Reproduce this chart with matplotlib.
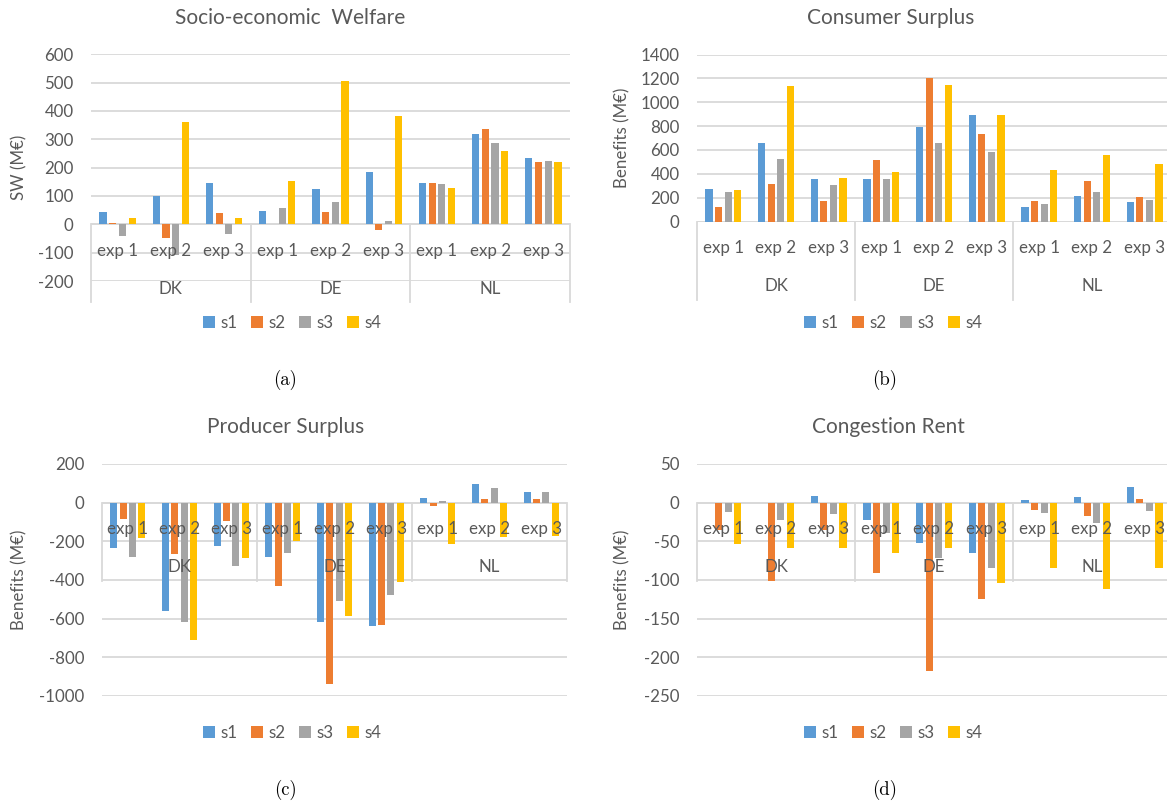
import matplotlib
matplotlib.use("Agg")
import matplotlib.pyplot as plt
from matplotlib.patches import Patch
import numpy as np

plt.rcParams['font.family'] = ['Lato', 'DejaVu Sans']

countries = ["DK", "DE", "NL"]
experiments = ["exp 1", "exp 2", "exp 3"]
series = ["s1", "s2", "s3", "s4"]
colors = ["#5B9BD5", "#ED7D31", "#A5A5A5", "#FFC000"]

# Socio-economic welfare (M€)
sw_s1 = [45, 101, 146, 48, 124, 186, 146, 318, 234]
sw_s2 = [6, -48, 39, 0, 44, -20, 146, 335, 220]
sw_s3 = [-40, -108, -35, 56, 80, 13, 142, 287, 225]
sw_s4 = [21, 362, 21, 154, 505, 381, 127, 260, 220]

# Consumer surplus (M€)
cs_s1 = [272, 661, 356, 356, 790, 896, 123, 217, 163]
cs_s2 = [123, 316, 168, 515, 1202, 737, 168, 343, 206]
cs_s3 = [249, 527, 305, 359, 661, 580, 148, 248, 183]
cs_s4 = [260, 1137, 367, 417, 1148, 896, 429, 554, 481]

# Producer surplus (M€)
ps_s1 = [-236, -560, -222, -283, -619, -638, 22, 95, 55]
ps_s2 = [-86, -267, -93, -431, -938, -633, -16, 17, 17]
ps_s3 = [-283, -619, -326, -262, -509, -478, 10, 76, 55]
ps_s4 = [-184, -710, -288, -198, -586, -412, -216, -179, -171]

# Congestion rent (M€)
cr_s1 = [0, 0, 8, -23, -52, -65, 3, 7, 20]
cr_s2 = [-35, -101, -35, -91, -218, -124, -9, -17, 5]
cr_s3 = [-12, -22, -15, -39, -72, -84, -13, -26, -11]
cr_s4 = [-54, -59, -59, -65, -59, -104, -85, -111, -84]

W, H = 1167, 807
DPI = 100
fig = plt.figure(figsize=(W / DPI, H / DPI), dpi=DPI)

TXT = "#595959"
GRID = "#D9D9D9"
FS = 12.2

panels = [
    dict(title="Socio-economic  Welfare", ylabel="SW (M€)", data=[sw_s1, sw_s2, sw_s3, sw_s4],
         box=(91, 570, 54.3, 281), ylim=(-200, 600), step=100, cap="(a)",
         title_xy=(290, 18), leg_xy=(292, 323), cap_xy=(285, 380), ylab_x=19),
    dict(title="Consumer Surplus", ylabel="Benefits (M€)", data=[cs_s1, cs_s2, cs_s3, cs_s4],
         box=(697, 1171, 54.5, 221.5), ylim=(0, 1400), step=200, cap="(b)",
         title_xy=(891, 18), leg_xy=(893, 323), cap_xy=(885, 380), ylab_x=622),
    dict(title="Producer Surplus", ylabel="Benefits (M€)", data=[ps_s1, ps_s2, ps_s3, ps_s4],
         box=(102, 567, 464, 696), ylim=(-1000, 200), step=200, cap="(c)",
         title_xy=(286, 427), leg_xy=(292, 733), cap_xy=(285, 790), ylab_x=19),
    dict(title="Congestion Rent", ylabel="Benefits (M€)", data=[cr_s1, cr_s2, cr_s3, cr_s4],
         box=(697, 1171, 464, 696), ylim=(-250, 50), step=50, cap="(d)",
         title_xy=(888, 427), leg_xy=(893, 733), cap_xy=(885, 790), ylab_x=622),
]

n_slots = len(countries) * len(experiments)
bar_w = 0.135
bar_step = 0.182

for p in panels:
    l, r, t, b = p["box"]
    ax = fig.add_axes([l / W, 1 - b / H, (r - l) / W, (b - t) / H])
    ymin, ymax = p["ylim"]
    ax.set_xlim(0, n_slots)
    ax.set_ylim(ymin, ymax)
    for sp in ax.spines.values():
        sp.set_visible(False)
    yt = np.arange(ymin, ymax + 1, p["step"])
    ax.set_yticks(yt)
    ax.set_yticklabels([str(int(v)) for v in yt])
    ax.tick_params(axis='y', length=0, pad=12.5, labelsize=FS, labelcolor=TXT)
    ax.set_xticks([])
    ax.grid(axis='y', color=GRID, linewidth=1.3, zorder=0)
    ax.set_axisbelow(True)

    x = np.arange(n_slots) + 0.5
    for k, (vals, c) in enumerate(zip(p["data"], colors)):
        ax.bar(x + (k - 1.5) * bar_step, vals, width=bar_w, color=c, zorder=2, linewidth=0)

    # zero axis line
    ax.axhline(0, color=GRID, linewidth=1.3, zorder=1)

    # multi-level category axis
    upp = (ymax - ymin) / (b - t)  # data units per pixel
    for xs in range(0, n_slots + 1, 3):
        ax.plot([xs, xs], [0, -78 * upp], color=GRID, linewidth=1.3, clip_on=False, zorder=1)
    for i in range(n_slots):
        ax.text(i + 0.5, -26.5 * upp, experiments[i % 3], ha='center', va='center',
                fontsize=FS, color=TXT, zorder=5, clip_on=False)
    for j, cn in enumerate(countries):
        ax.text(3 * j + 1.5, -64.5 * upp, cn, ha='center', va='center',
                fontsize=FS, color=TXT, zorder=5, clip_on=False)

    # title, y label, legend, caption
    fig.text(p["title_xy"][0] / W, 1 - p["title_xy"][1] / H, p["title"], ha='center', va='center',
             fontsize=15, color=TXT)
    fig.text(p["ylab_x"] / W, 1 - ((t + b) / 2) / H, p["ylabel"], rotation=90, ha='center',
             va='center', fontsize=FS, color=TXT)
    handles = [Patch(facecolor=c, edgecolor='none', label=s) for s, c in zip(series, colors)]
    fig.legend(handles=handles, loc='center', ncol=4, frameon=False,
               bbox_to_anchor=(p["leg_xy"][0] / W, 1 - p["leg_xy"][1] / H),
               fontsize=FS, labelcolor=TXT, handlelength=0.72, handleheight=0.72,
               handletextpad=0.3, columnspacing=0.8)
    fig.text(p["cap_xy"][0] / W, 1 - p["cap_xy"][1] / H, p["cap"], ha='center', va='center',
             fontsize=13.5, family='cmr10', color='black')

fig.savefig("out.png", dpi=DPI)
